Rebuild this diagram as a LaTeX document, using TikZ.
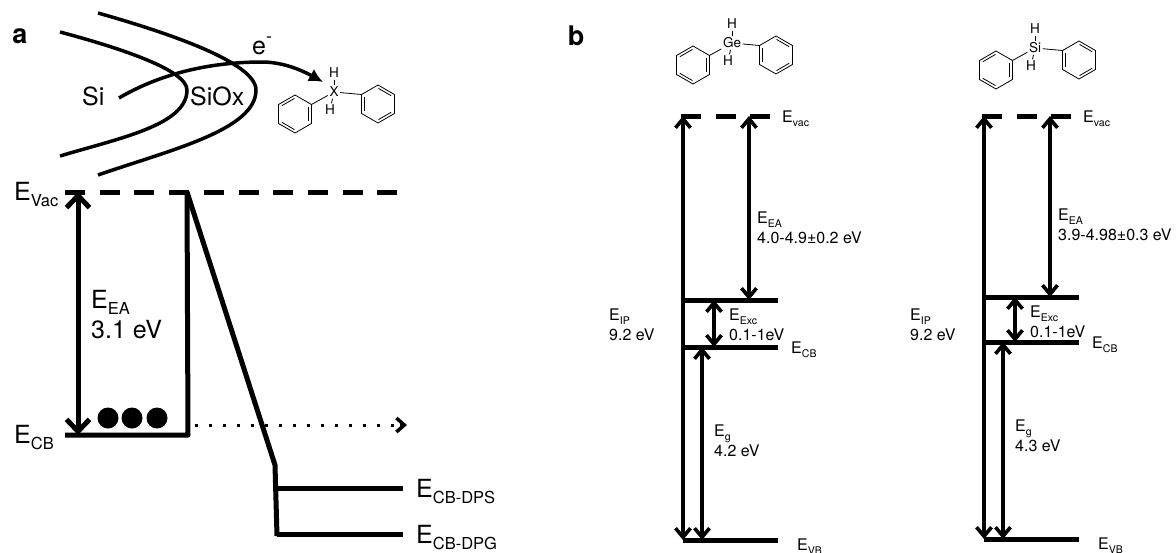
\documentclass[tikz,border=0pt]{standalone}
\usepackage{fontspec}
\setmainfont{TeX Gyre Heros}
\usetikzlibrary{arrows.meta}

\newcommand{\Esub}[1]{E\raisebox{-.25em}{\scalebox{.66}{#1}}}

\tikzset{
  biglabel/.style={font=\fontsize{25}{30}\selectfont,inner sep=0pt,anchor=base west,align=left},
  smalllabel/.style={font=\fontsize{16}{20}\selectfont,inner sep=0pt,anchor=base west,align=left},
  twolabel/.style={smalllabel,anchor=north west},
  panellabel/.style={font=\fontsize{27}{27}\selectfont\bfseries,inner sep=0pt},
  bigarrow/.style={line width=5pt,{Straight Barb[length=12pt,width=23pt,line width=5pt]}-{Straight Barb[length=12pt,width=23pt,line width=5pt]}},
  levelarrow/.style={line width=3.6pt,{Straight Barb[length=9pt,width=15pt,line width=3.6pt]}-{Straight Barb[length=9pt,width=15pt,line width=3.6pt]}},
  level/.style={line width=5pt},
  dashlevel/.style={line width=5pt,dash pattern=on 20pt off 14.7pt},
  wall/.style={line width=5pt,line join=round},
  atomlabel/.style={font=\fontsize{13.5}{14}\selectfont,inner sep=1.5pt},
  phenyl/.pic={
    \coordinate (-bond) at (-30:19);
    \draw[line width=.8pt] (-30:19) \foreach \a in {30,90,...,270} {-- (\a:19)} -- cycle;
    \foreach \a in {-120,0,120}
    \draw[line width=.8pt] (\a-28:15.6) -- (\a+28:15.6);
  },
  molecule/.pic={
    \node[atomlabel] (-atom) at (0,0) {#1};
    \node[atomlabel] (-hup) at (0,-19) {H};
    \node[atomlabel] (-hdn) at (-4,18) {H};
    \pic (-lring) at (-39,22) {phenyl};
    \pic[xscale=-1] (-rring) at (44,12) {phenyl};
    \draw[line width=.8pt] (-hup) -- (-atom);
    \draw[line width=.8pt] (-atom) -- (-hdn);
    \draw[line width=.8pt] (-atom) -- (-lring-bond);
    \draw[line width=.8pt] (-atom) -- (-rring-bond);
  }
}

\begin{document}
\begin{tikzpicture}[x=1pt,y=-1pt]
  \useasboundingbox (0,0) rectangle (1176,552);
  \node[panellabel] (labela) at (20,36) {a};
  \node[panellabel] (labelb) at (576,36) {b};

  % panel a, the surface
  \draw[line width=3.5pt] (60,32) .. controls (120,48) and (187,70) .. (187,90)
    .. controls (187,125) and (120,138) .. (60,156);
  \draw[line width=3.5pt] (98,13) .. controls (165,32) and (256,62) .. (256,90)
    .. controls (256,130) and (170,150) .. (98,175);
  \node[biglabel] (si) at (82,105) {Si};
  \node[biglabel] (siox) at (190,105) {SiOx};
  \node[biglabel] (elec) at (252,54) {e\raisebox{.45em}{\scalebox{.72}{-}}};
  \coordinate (estart) at (119,98);
  \coordinate (eend) at (323,82);
  \draw[line width=3.5pt,-{Latex[length=14pt,width=14pt]}] (estart)
    .. controls (170,68) and (225,62) .. (262,62)
    .. controls (285,62) and (305,72) .. (eend);
  \pic (xmol) at (334,92) {molecule={X}};

  % panel a, the levels
  \coordinate (vacl) at (65,192);
  \coordinate (vacr) at (397,192);
  \coordinate (vacm) at (78,192);
  \coordinate (wtop) at (187,192);
  \coordinate (wbot) at (188,435);
  \coordinate (cbl) at (65,435);
  \coordinate (cbm) at (78,435);
  \coordinate (bend) at (275,465);
  \coordinate (bot) at (277,536);
  \coordinate (dpsl) at (277,488);
  \coordinate (dpsr) at (403,488);
  \coordinate (dpgl) at (277,534);
  \coordinate (dpgr) at (403,534);
  \draw[dashlevel] (vacl) -- (vacr);
  \draw[wall] (wtop) -- (wbot) -- (cbl);
  \draw[wall] (wtop) -- (bend) -- (bot);
  \draw[level] (dpsl) -- (dpsr);
  \draw[level] (dpgl) -- (dpgr);
  \draw[bigarrow] (vacm) -- (cbm);
  \foreach \x in {108,132,157}
  \fill (\x,418) circle [radius=10.5];
  \coordinate (dots) at (195,425);
  \coordinate (dote) at (407,425);
  \draw[line width=3pt,dash pattern=on 3pt off 11pt] (dots) -- (399,425);
  \draw[line width=3.5pt,{Straight Barb[length=8pt,width=14pt,line width=3.5pt]}-] (dote) -- (400,425);
  \node[biglabel] (evac) at (14,200) {\Esub{Vac}};
  \node[biglabel] (ecb) at (14,443) {\Esub{CB}};
  \node[biglabel,anchor=north west] (eea) at (91,290) {\Esub{EA}\\3.1 eV};
  \node[biglabel] (edps) at (416,497) {\Esub{CB-DPS}};
  \node[biglabel] (edpg) at (416,543) {\Esub{CB-DPG}};

  % panel b, one column for each molecule
  \pic (gemol) at (732,43) {molecule={Ge}};
  \pic (simol) at (1035,48) {molecule={Si}};
  \foreach \col/\dx/\yea/\ycb/\yvb/\ea/\eg in
    {ge/0/300/347/540/4.0-4.9±0.2 eV/4.2 eV,
     si/301/297/342/539/3.9-4.98±0.3 eV/4.3 eV}
  {
    \begin{scope}[xshift=\dx pt]
      \coordinate (\col vl) at (681,116);
      \coordinate (\col vr) at (770,116);
      \coordinate (\col vip) at (683,116);
      \coordinate (\col vea) at (749,116);
      \coordinate (\col lipb) at (683,\yvb);
      \coordinate (\col ea) at (683,\yea);
      \coordinate (\col ear) at (778,\yea);
      \coordinate (\col eam) at (749,\yea);
      \coordinate (\col exc) at (714,\yea);
      \coordinate (\col cb) at (683,\ycb);
      \coordinate (\col cbr) at (778,\ycb);
      \coordinate (\col cbm) at (714,\ycb);
      \coordinate (\col cbg) at (702,\ycb);
      \coordinate (\col vb) at (683,\yvb);
      \coordinate (\col vbr) at (778,\yvb);
      \coordinate (\col vbg) at (702,\yvb);
      \draw[dashlevel] (\col vl) -- (\col vr);
      \draw[level] (\col ea) -- (\col ear);
      \draw[level] (\col cb) -- (\col cbr);
      \draw[level] (\col vb) -- (\col vbr);
      \draw[levelarrow] (\col vip) -- (\col lipb);
      \draw[levelarrow] (\col vea) -- (\col eam);
      \draw[levelarrow] (\col exc) -- (\col cbm);
      \draw[levelarrow] (\col cbg) -- (\col vbg);
      \node[smalllabel] (\col evac) at (782,122) {\Esub{vac}};
      \node[twolabel] (\col eea) at (757,\yea-88.5) {\Esub{EA}\\\ea};
      \node[twolabel] (\col eexc) at (729,\yea+8.5) {\Esub{Exc}\\0.1-1eV};
      \node[smalllabel] (\col ecb) at (791,\ycb+6) {\Esub{CB}};
      \node[twolabel] (\col eip) at (609,308.5) {\Esub{IP}\\9.2 eV};
      \node[twolabel] (\col eg) at (714,\ycb+78) {\Esub{g}\\\eg};
      \node[smalllabel] (\col evb) at (797,\yvb+10) {\Esub{VB}};
    \end{scope}
  }
\end{tikzpicture}
\end{document}
